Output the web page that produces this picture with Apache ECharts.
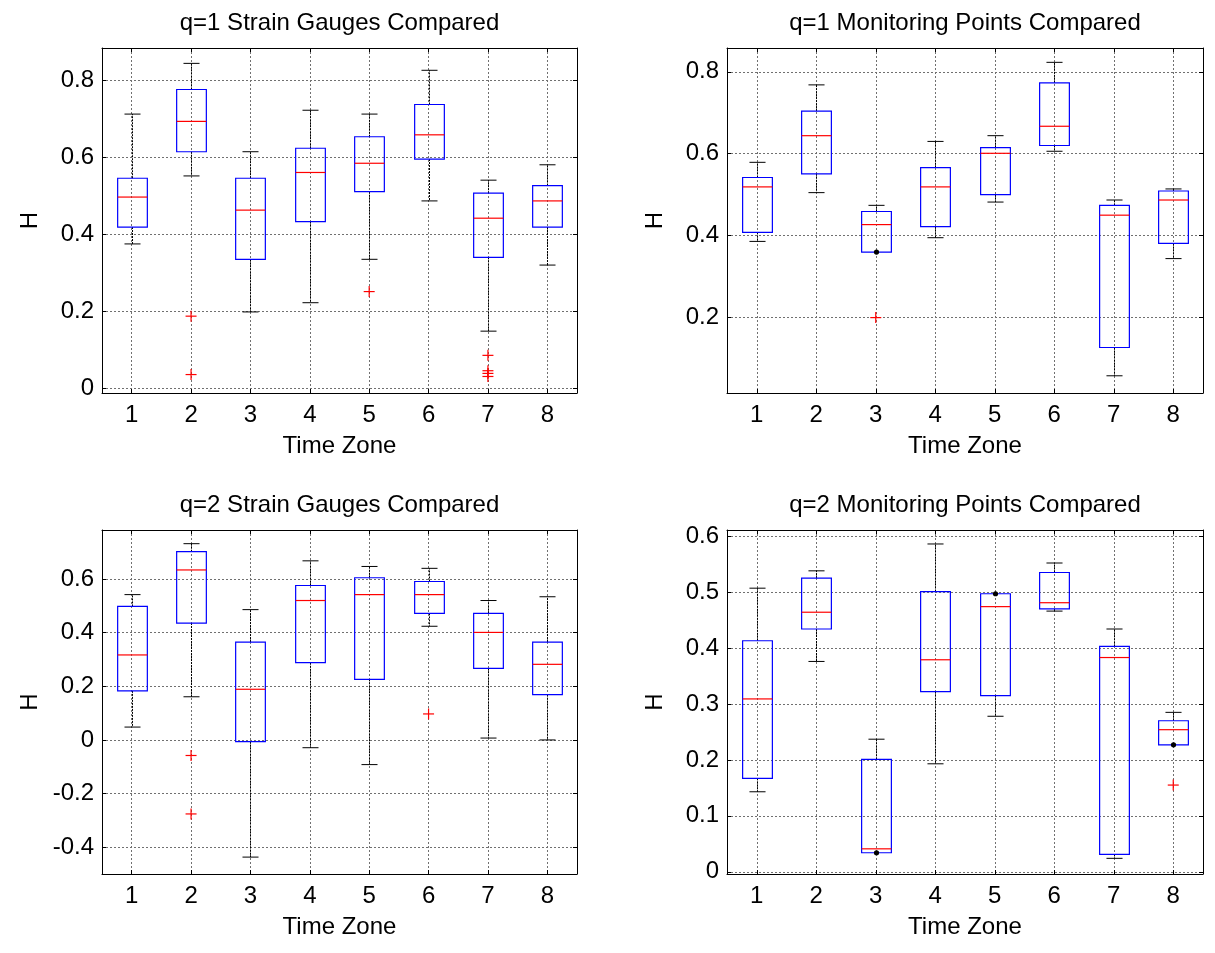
<!DOCTYPE html>
<html><head><meta charset="utf-8">
<script src="https://cdn.jsdelivr.net/npm/echarts@6/dist/echarts.min.js"></script>
<style>html,body{margin:0;padding:0;background:#fff}#c{width:1215px;height:953px}</style>
</head><body><div id="c"></div>
<script>
// Time zones (x categories)
const categories = [1, 2, 3, 4, 5, 6, 7, 8];
const xTickValues = [1, 2, 3, 4, 5, 6, 7, 8];

// q=1 Strain Gauges Compared
const sg1Lower  = [0.375, 0.552, 0.198, 0.222, 0.335, 0.487, 0.148, 0.320];
const sg1Q1     = [0.419, 0.615, 0.335, 0.433, 0.511, 0.596, 0.340, 0.419];
const sg1Median = [0.497, 0.694, 0.463, 0.561, 0.585, 0.659, 0.442, 0.487];
const sg1Q3     = [0.546, 0.777, 0.546, 0.624, 0.654, 0.738, 0.507, 0.527];
const sg1Upper  = [0.713, 0.845, 0.615, 0.723, 0.713, 0.827, 0.541, 0.581];
const sg1Outliers = [[2, 0.187], [2, 0.035], [5, 0.251], [7, 0.085], [7, 0.045], [7, 0.038], [7, 0.030]];
const sg1Ticks = [0, 0.2, 0.4, 0.6, 0.8];

// q=1 Monitoring Points Compared
const mp1Lower  = [0.386, 0.505, 0.360, 0.395, 0.482, 0.606, 0.058, 0.344];
const mp1Q1     = [0.408, 0.551, 0.360, 0.422, 0.500, 0.620, 0.127, 0.381];
const mp1Median = [0.519, 0.644, 0.427, 0.519, 0.601, 0.667, 0.450, 0.487];
const mp1Q3     = [0.542, 0.704, 0.459, 0.566, 0.615, 0.773, 0.474, 0.509];
const mp1Upper  = [0.579, 0.768, 0.474, 0.630, 0.644, 0.823, 0.487, 0.514];
const mp1Outliers = [[3, 0.200]];
const mp1Ticks = [0.2, 0.4, 0.6, 0.8];

// q=2 Strain Gauges Compared
const sg2Lower  = [0.048, 0.161, -0.437, -0.029, -0.092, 0.424, 0.007, 0.000];
const sg2Q1     = [0.183, 0.436, -0.006, 0.288, 0.226, 0.472, 0.267, 0.169];
const sg2Median = [0.317, 0.634, 0.189, 0.520, 0.542, 0.542, 0.401, 0.282];
const sg2Q3     = [0.498, 0.702, 0.365, 0.576, 0.605, 0.591, 0.472, 0.365];
const sg2Upper  = [0.542, 0.732, 0.486, 0.668, 0.647, 0.640, 0.520, 0.534];
const sg2Outliers = [[2, -0.058], [2, -0.276], [6, 0.097]];
const sg2Ticks = [-0.4, -0.2, 0, 0.2, 0.4, 0.6];

// q=2 Monitoring Points Compared
const mp2Lower  = [0.143, 0.376, 0.034, 0.193, 0.278, 0.466, 0.024, 0.227];
const mp2Q1     = [0.167, 0.434, 0.034, 0.322, 0.315, 0.470, 0.031, 0.227];
const mp2Median = [0.309, 0.464, 0.041, 0.379, 0.474, 0.481, 0.383, 0.254];
const mp2Q3     = [0.413, 0.525, 0.201, 0.501, 0.497, 0.535, 0.403, 0.270];
const mp2Upper  = [0.507, 0.538, 0.237, 0.586, 0.497, 0.552, 0.434, 0.285];
const mp2Outliers = [[8, 0.155]];
const mp2Ticks = [0, 0.1, 0.2, 0.3, 0.4, 0.5, 0.6];

const FONT = "'Liberation Sans', Arial, sans-serif";
const FS = 24;

const panels = [
  {title: 'q=1 Strain Gauges Compared', lower: sg1Lower, q1: sg1Q1, med: sg1Median, q3: sg1Q3, upper: sg1Upper, out: sg1Outliers, ticks: sg1Ticks, min: -0.013, max: 0.885,
   grid: {left: 102, top: 48, width: 475, height: 345}},
  {title: 'q=1 Monitoring Points Compared', lower: mp1Lower, q1: mp1Q1, med: mp1Median, q3: mp1Q3, upper: mp1Upper, out: mp1Outliers, ticks: mp1Ticks, min: 0.016, max: 0.858,
   grid: {left: 727, top: 48, width: 476, height: 345}},
  {title: 'q=2 Strain Gauges Compared', lower: sg2Lower, q1: sg2Q1, med: sg2Median, q3: sg2Q3, upper: sg2Upper, out: sg2Outliers, ticks: sg2Ticks, min: -0.5, max: 0.783,
   grid: {left: 102, top: 530, width: 475, height: 344}},
  {title: 'q=2 Monitoring Points Compared', lower: mp2Lower, q1: mp2Q1, med: mp2Median, q3: mp2Q3, upper: mp2Upper, out: mp2Outliers, ticks: mp2Ticks, min: -0.004, max: 0.611,
   grid: {left: 727, top: 530, width: 476, height: 344}}
];

function boxRender(params, api) {
  const x = api.value(0);
  const lo = api.value(1), q1 = api.value(2), md = api.value(3), q3 = api.value(4), hi = api.value(5);
  const half = api.size([0.25, 0])[0];
  const capHalf = api.size([0.135, 0])[0];
  const pLo = api.coord([x, lo]), pQ1 = api.coord([x, q1]), pMd = api.coord([x, md]);
  const pQ3 = api.coord([x, q3]), pHi = api.coord([x, hi]);
  const cx = Math.round(pLo[0]) + 0.5;
  const ch = [];
  const whisk = {stroke: '#000', lineWidth: 1, lineDash: [2, 1]};
  const cap = {stroke: '#000', lineWidth: 1};
  if (hi !== q3) {
    ch.push({type: 'line', shape: {x1: cx, y1: pQ3[1], x2: cx, y2: pHi[1]}, style: whisk});
    ch.push({type: 'line', shape: {x1: cx - capHalf, y1: pHi[1], x2: cx + capHalf, y2: pHi[1]}, style: cap});
  }
  if (lo !== q1) {
    ch.push({type: 'line', shape: {x1: cx, y1: pQ1[1], x2: cx, y2: pLo[1]}, style: whisk});
    ch.push({type: 'line', shape: {x1: cx - capHalf, y1: pLo[1], x2: cx + capHalf, y2: pLo[1]}, style: cap});
  }
  ch.push({type: 'rect', shape: {x: cx - half, y: pQ3[1], width: 2 * half, height: pQ1[1] - pQ3[1]},
           style: {fill: 'none', stroke: '#0000ff', lineWidth: 1.2}});
  ch.push({type: 'line', shape: {x1: cx - half, y1: pMd[1], x2: cx + half, y2: pMd[1]},
           style: {stroke: '#ff0000', lineWidth: 1.2}});
  if (hi === q3) ch.push({type: 'circle', shape: {cx: cx, cy: pHi[1], r: 2.6}, style: {fill: '#000'}});
  if (lo === q1) ch.push({type: 'circle', shape: {cx: cx, cy: pLo[1], r: 2.6}, style: {fill: '#000'}});
  return {type: 'group', children: ch};
}

function plusRender(params, api) {
  const p = api.coord([api.value(0), api.value(1)]);
  const s = 5.5;
  const st = {stroke: '#ff0000', lineWidth: 1.2};
  return {type: 'group', children: [
    {type: 'line', shape: {x1: p[0] - s, y1: p[1], x2: p[0] + s, y2: p[1]}, style: st},
    {type: 'line', shape: {x1: p[0], y1: p[1] - s, x2: p[0], y2: p[1] + s}, style: st}
  ]};
}

const grids = [], xAxes = [], yAxes = [], series = [], graphics = [];
const gridLine = {show: true, lineStyle: {color: '#707070', width: 1, type: [2, 2]}};
const labelStyle = {color: '#000', fontFamily: FONT, fontSize: FS};

panels.forEach((p, i) => {
  grids.push(Object.assign({containLabel: false}, p.grid));
  xAxes.push({type: 'value', gridIndex: i, position: 'bottom', min: 0.5, max: 8.5,
    name: 'Time Zone', nameLocation: 'middle', nameGap: 41, nameTextStyle: labelStyle,
    axisLine: {show: true, onZero: false, lineStyle: {color: '#000', width: 1}},
    axisTick: {show: true, inside: true, length: 4, customValues: xTickValues, lineStyle: {color: '#000'}},
    axisLabel: Object.assign({customValues: xTickValues, margin: 10, formatter: v => String(v)}, labelStyle),
    splitLine: gridLine});
  xAxes.push({type: 'value', gridIndex: i, position: 'top', min: 0.5, max: 8.5,
    axisLine: {show: true, onZero: false, lineStyle: {color: '#000', width: 1}},
    axisTick: {show: true, inside: true, length: 4, customValues: xTickValues, lineStyle: {color: '#000'}},
    axisLabel: {show: false}, splitLine: {show: false}});
  yAxes.push({type: 'value', gridIndex: i, position: 'left', min: p.min, max: p.max,
    name: 'H', nameLocation: 'middle', nameGap: 60, nameRotate: 90, nameTextStyle: labelStyle,
    axisLine: {show: true, onZero: false, lineStyle: {color: '#000', width: 1}},
    axisTick: {show: true, inside: true, length: 4, customValues: p.ticks, lineStyle: {color: '#000'}},
    axisLabel: Object.assign({customValues: p.ticks, margin: 8, formatter: v => String(+(+v).toFixed(2))}, labelStyle),
    splitLine: gridLine});
  yAxes.push({type: 'value', gridIndex: i, position: 'right', min: p.min, max: p.max,
    axisLine: {show: true, onZero: false, lineStyle: {color: '#000', width: 1}},
    axisTick: {show: true, inside: true, length: 4, customValues: p.ticks, lineStyle: {color: '#000'}},
    axisLabel: {show: false}, splitLine: {show: false}});

  const boxData = categories.map((c, k) => [c, p.lower[k], p.q1[k], p.med[k], p.q3[k], p.upper[k]]);
  series.push({type: 'custom', xAxisIndex: 2 * i, yAxisIndex: 2 * i, renderItem: boxRender,
    encode: {x: 0, y: [1, 2, 3, 4, 5]}, data: boxData, silent: true, z: 3});
  series.push({type: 'custom', xAxisIndex: 2 * i, yAxisIndex: 2 * i, renderItem: plusRender,
    encode: {x: 0, y: 1}, data: p.out, silent: true, z: 4});

  graphics.push({type: 'text', x: p.grid.left + p.grid.width / 2, y: p.grid.top - 25,
    style: {text: p.title, font: FS + 'px ' + FONT, fill: '#000', textAlign: 'center', textVerticalAlign: 'middle'}});
});

const chart = echarts.init(document.getElementById('c'), null, {renderer: 'canvas'});
chart.setOption({
  animation: false,
  backgroundColor: '#fff',
  grid: grids, xAxis: xAxes, yAxis: yAxes, series: series, graphic: graphics
});
</script></body></html>
